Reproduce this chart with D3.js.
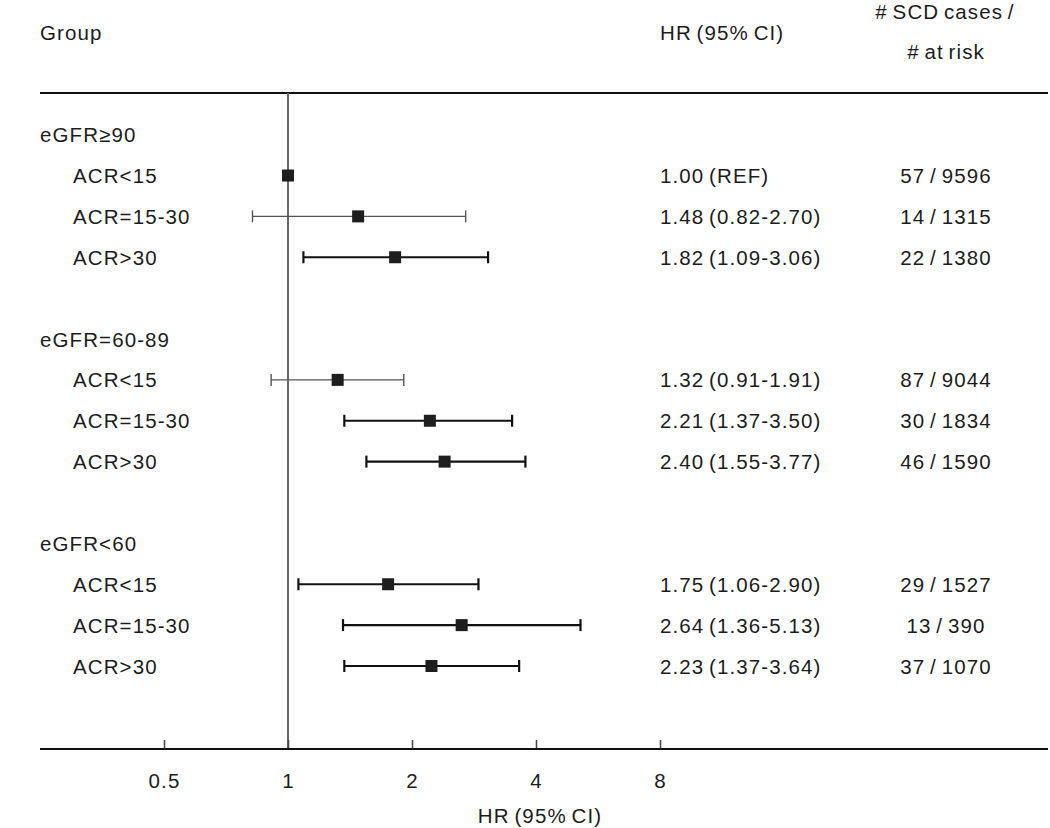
<!DOCTYPE html>
<html><head><meta charset="utf-8">
<script src="https://cdn.jsdelivr.net/npm/d3@7"></script>
<style>
body{margin:0;background:#fff;}
svg text{font-family:"Liberation Sans",Arial,sans-serif;font-size:20.5px;fill:#1c1c1c;letter-spacing:1.1px;word-spacing:-2px;}
</style></head>
<body><svg id="c" width="1050" height="828"></svg>
<script>
// ---- data ----
const rowLabels = ["eGFR\u226590","ACR<15","ACR=15-30","ACR>30","",
                   "eGFR=60-89","ACR<15","ACR=15-30","ACR>30","",
                   "eGFR<60","ACR<15","ACR=15-30","ACR>30"];
const isGroup   = [1,0,0,0,0,1,0,0,0,0,1,0,0,0];
const hr        = [null,1.00,1.48,1.82,null,null,1.32,2.21,2.40,null,null,1.75,2.64,2.23];
const ciLow     = [null,null,0.82,1.09,null,null,0.91,1.37,1.55,null,null,1.06,1.36,1.37];
const ciHigh    = [null,null,2.70,3.06,null,null,1.91,3.50,3.77,null,null,2.90,5.13,3.64];
const hrText    = ["","1.00 (REF)","1.48 (0.82-2.70)","1.82 (1.09-3.06)","","",
                   "1.32 (0.91-1.91)","2.21 (1.37-3.50)","2.40 (1.55-3.77)","","",
                   "1.75 (1.06-2.90)","2.64 (1.36-5.13)","2.23 (1.37-3.64)"];
const countText = ["","57 / 9596","14 / 1315","22 / 1380","","",
                   "87 / 9044","30 / 1834","46 / 1590","","",
                   "29 / 1527","13 / 390","37 / 1070"];
const tickValues = [0.5,1,2,4,8];
const tickLabels = ["0.5","1","2","4","8"];

// ---- layout ----
const svg = d3.select("#c");
const x = d3.scaleLog().base(2).domain([0.5,8]).range([164,660]);
const y = d3.scaleLinear().domain([1,13]).range([175.5,666]);
const topLine = 93, axisY = 749, left = 40, right = 1048;

// header
svg.append("text").attr("x",left).attr("y",40).text("Group");
svg.append("text").attr("x",660).attr("y",40).text("HR (95% CI)");
svg.append("text").attr("x",945).attr("y",19).attr("text-anchor","middle").text("# SCD cases /");
svg.append("text").attr("x",946).attr("y",59).attr("text-anchor","middle").text("# at risk");
svg.append("line").attr("x1",left).attr("x2",right).attr("y1",topLine).attr("y2",topLine)
  .attr("stroke","#111").attr("stroke-width",2);

// reference line at HR=1
svg.append("line").attr("x1",x(1)).attr("x2",x(1)).attr("y1",topLine).attr("y2",axisY)
  .attr("stroke","#666").attr("stroke-width",2);

// axis
const axis = d3.axisBottom(x).tickValues(tickValues).tickFormat((d,i)=>tickLabels[i])
  .tickSizeInner(-9).tickSizeOuter(0).tickPadding(24);
const g = svg.append("g").attr("transform",`translate(0,${axisY})`).call(axis);
g.select(".domain").remove();
g.selectAll(".tick line").attr("stroke","#444").attr("stroke-width",1.5);
g.selectAll(".tick text").attr("font-size",null).attr("font-family",null).attr("fill","#1c1c1c");
svg.append("line").attr("x1",left).attr("x2",right).attr("y1",axisY).attr("y2",axisY)
  .attr("stroke","#111").attr("stroke-width",2);
svg.append("text").attr("x",540).attr("y",823).attr("text-anchor","middle").text("HR (95% CI)");

// row labels
const idx = d3.range(rowLabels.length);
svg.selectAll("text.lab").data(idx).enter().append("text").attr("class","lab")
  .attr("x",i=>isGroup[i]?left:73).attr("y",i=>y(i)+7.5).text(i=>rowLabels[i]);
svg.selectAll("text.hr").data(idx).enter().append("text").attr("class","hr")
  .attr("x",660).attr("y",i=>y(i)+7.5).text(i=>hrText[i]);
svg.selectAll("text.cnt").data(idx).enter().append("text").attr("class","cnt")
  .attr("x",946).attr("text-anchor","middle").attr("y",i=>y(i)+7.5).text(i=>countText[i]);

// CIs
const ciRows = idx.filter(i=>ciLow[i]!=null);
const sig = i => ciLow[i] > 1;
const ci = svg.selectAll("g.ci").data(ciRows).enter().append("g").attr("class","ci")
  .attr("stroke",i=>sig(i)?"#111":"#555").attr("stroke-width",i=>sig(i)?2.2:1.4);
ci.append("line").attr("x1",i=>x(ciLow[i])).attr("x2",i=>x(ciHigh[i])).attr("y1",i=>y(i)).attr("y2",i=>y(i));
ci.append("line").attr("x1",i=>x(ciLow[i])).attr("x2",i=>x(ciLow[i])).attr("y1",i=>y(i)-6).attr("y2",i=>y(i)+6);
ci.append("line").attr("x1",i=>x(ciHigh[i])).attr("x2",i=>x(ciHigh[i])).attr("y1",i=>y(i)-6).attr("y2",i=>y(i)+6);

// point estimates
const s = 12;
svg.selectAll("rect.pt").data(idx.filter(i=>hr[i]!=null)).enter().append("rect").attr("class","pt")
  .attr("x",i=>x(hr[i])-s/2).attr("y",i=>y(i)-s/2).attr("width",s).attr("height",s).attr("fill","#1e1e1e");
</script></body></html>
